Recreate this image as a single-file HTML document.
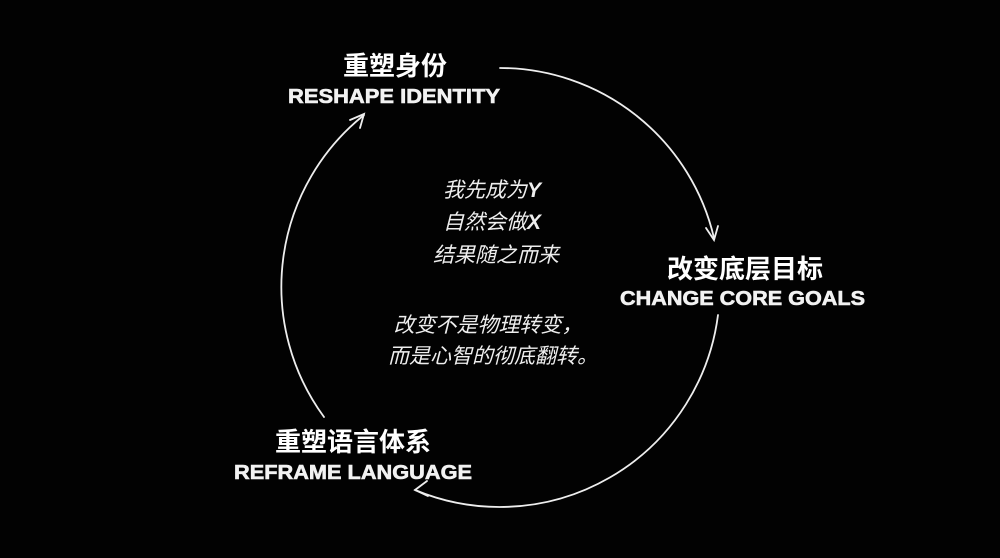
<!DOCTYPE html>
<html><head><meta charset="utf-8"><style>
html,body{margin:0;padding:0;background:#000;}
svg{display:block;}
.cn{font-family:"Liberation Sans","Noto Sans CJK SC",sans-serif;font-weight:bold;fill:#fff;}
.en{font-family:"Liberation Sans",sans-serif;font-weight:bold;fill:#f2f2f2;stroke:#f2f2f2;stroke-width:0.6;}
.it{font-family:"Liberation Sans","Noto Sans CJK SC",sans-serif;font-style:italic;fill:#eee;font-size:21px;}
</style></head><body>
<svg width="1000" height="558" viewBox="0 0 1000 558" xmlns="http://www.w3.org/2000/svg">
<rect width="1000" height="558" fill="#020202"/>
<g fill="none" stroke="#eee" stroke-width="1.8" stroke-linecap="round">
<path d="M500,68 A220,220 0 0 1 714,238"/>
<path d="M706,228 L714,240 L718,226"/>
<path d="M718,315 A220,220 0 0 1 415,490"/>
<path d="M427,481 L415,490 L428,496"/>
<path d="M324,417 A220,220 0 0 1 364,115"/>
<path d="M350,120 L364,114 L360,128"/>
</g>
<text class="cn" x="395" y="75" font-size="26" text-anchor="middle">重塑身份</text>
<text class="en" x="288" y="103" font-size="20" textLength="212" lengthAdjust="spacingAndGlyphs">RESHAPE IDENTITY</text>
<text class="cn" x="745" y="278" font-size="26" text-anchor="middle">改变底层目标</text>
<text class="en" x="620" y="305" font-size="20" textLength="245" lengthAdjust="spacingAndGlyphs">CHANGE CORE GOALS</text>
<text class="cn" x="353" y="451" font-size="26" text-anchor="middle">重塑语言体系</text>
<text class="en" x="234" y="479" font-size="20" textLength="238" lengthAdjust="spacingAndGlyphs">REFRAME LANGUAGE</text>
<text class="it" x="492" y="197" text-anchor="middle">我先成为<tspan font-weight="bold">Y</tspan></text>
<text class="it" x="492" y="229" text-anchor="middle">自然会做<tspan font-weight="bold">X</tspan></text>
<text class="it" x="496" y="262" text-anchor="middle">结果随之而来</text>
<text class="it" x="488" y="332" text-anchor="middle">改变不是物理转变，</text>
<text class="it" x="493" y="363" text-anchor="middle">而是心智的彻底翻转。</text>
</svg>
</body></html>
